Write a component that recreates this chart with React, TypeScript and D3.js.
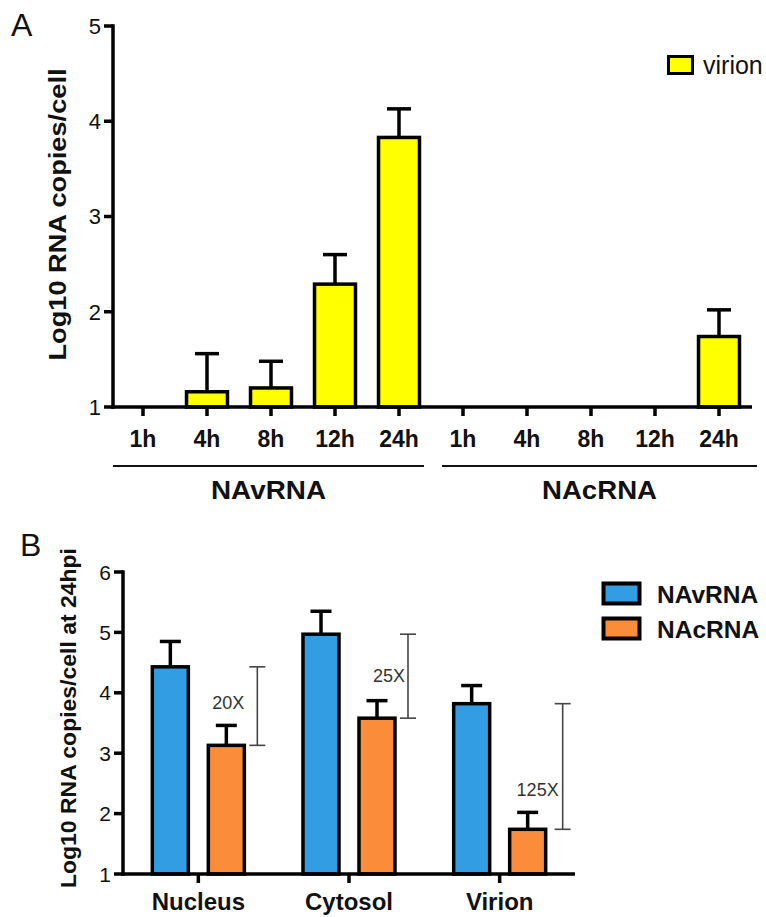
import React from "react";
import * as d3 from "d3";

// ---------- Panel A data ----------
const timepoints = ["1h", "4h", "8h", "12h", "24h"];
const groupsA = ["NAvRNA", "NAcRNA"];
const navrnaVirion = [1, 1.16, 1.2, 2.29, 3.83];
const navrnaVirionErr = [0, 0.4, 0.28, 0.31, 0.3];
const nacrnaVirion = [1, 1, 1, 1, 1.74];
const nacrnaVirionErr = [0, 0, 0, 0, 0.28];
const yTicksA = [1, 2, 3, 4, 5];

// ---------- Panel B data ----------
const compartments = ["Nucleus", "Cytosol", "Virion"];
const seriesB = ["NAvRNA", "NAcRNA"];
const navrnaB = [4.43, 4.97, 3.82];
const navrnaBErr = [0.42, 0.38, 0.3];
const nacrnaB = [3.13, 3.58, 1.74];
const nacrnaBErr = [0.33, 0.29, 0.28];
const foldLabels = ["20X", "25X", "125X"];
const yTicksB = [1, 2, 3, 4, 5, 6];

const YELLOW = "#FFFF00";
const BLUE = "#339DE4";
const ORANGE = "#FA8C3A";
const FONT = "'Liberation Sans', Arial, Helvetica, sans-serif";

export default function App() {
  // Panel A scales
  const catsA = groupsA.flatMap((g) => timepoints.map((t) => `${g}|${t}`));
  const xA = d3.scaleBand<string>().domain(catsA).range([111, 751]).paddingInner(0.36).paddingOuter(0.18);
  const yA = d3.scaleLinear().domain([1, 5]).range([407, 26]);
  const valsA = [...navrnaVirion, ...nacrnaVirion];
  const errsA = [...navrnaVirionErr, ...nacrnaVirionErr];
  const axisA0 = 113;
  const axisA1 = 752;

  // Panel B scales
  const xB = d3.scaleBand<string>().domain(compartments).range([123, 575]);
  const xSub = d3.scaleBand<string>().domain(seriesB).range([-56, 56]).paddingInner(0.357).paddingOuter(0.1785);
  const yB = d3.scaleLinear().domain([1, 6]).range([874, 572]);
  const colorB = d3.scaleOrdinal<string, string>().domain(seriesB).range([BLUE, ORANGE]);
  const dataB = compartments.map((c, i) => ({
    c,
    bars: [
      { s: seriesB[0], v: navrnaB[i], e: navrnaBErr[i] },
      { s: seriesB[1], v: nacrnaB[i], e: nacrnaBErr[i] },
    ],
  }));
  const annotLayout = [
    { dx: 31, labelFrac: 0.46, labelDx: -13 },
    { dx: 31, labelFrac: 0.49, labelDx: -3 },
    { dx: 35, labelFrac: 0.68, labelDx: -4 },
  ];

  const sw = 3.5;
  const bwA = xA.bandwidth();
  const bwB = xSub.bandwidth();

  return (
    <svg width={766} height={917} style={{ display: "block", position: "absolute", left: 0, top: 0 }} fontFamily={FONT}>
      <rect x={0} y={0} width={766} height={917} fill="#fff" />

      {/* ===== Panel A ===== */}
      <text x={11} y={36} fontSize={32} fill="#111">A</text>

      {/* bars */}
      {catsA.map((c, i) => {
        const v = valsA[i];
        if (v <= 1) return null;
        const x = xA(c)!;
        const cx = x + bwA / 2;
        const top = yA(v);
        const capY = yA(v + errsA[i]);
        return (
          <g key={c}>
            <line x1={cx} x2={cx} y1={top} y2={capY} stroke="#000" strokeWidth={sw} />
            <line x1={cx - 12} x2={cx + 12} y1={capY} y2={capY} stroke="#000" strokeWidth={sw} />
            <rect x={x} y={top} width={bwA} height={yA(1) - top} fill={YELLOW} stroke="#000" strokeWidth={sw} />
          </g>
        );
      })}

      {/* y axis A */}
      <line x1={axisA0} x2={axisA0} y1={yA(5) - 1.75} y2={yA(1) + 1.75} stroke="#000" strokeWidth={sw} />
      {yTicksA.map((t) => (
        <g key={t}>
          <line x1={axisA0 - 9} x2={axisA0} y1={yA(t)} y2={yA(t)} stroke="#000" strokeWidth={sw} />
          <text x={axisA0 - 12} y={yA(t)} dy="0.36em" textAnchor="end" fontSize={22} fill="#111">{t}</text>
        </g>
      ))}
      <text
        transform={`translate(57,${(yA(1) + yA(5)) / 2 - 2}) rotate(-90)`}
        textAnchor="middle"
        dy="0.36em"
        fontSize={24}
        fontWeight="bold"
        fill="#111"
        textLength={292}
        lengthAdjust="spacingAndGlyphs"
      >
        Log10 RNA copies/cell
      </text>

      {/* x axis A */}
      <line x1={axisA0 - 1.75} x2={axisA1} y1={yA(1)} y2={yA(1)} stroke="#000" strokeWidth={sw} />
      {catsA.map((c) => {
        const cx = xA(c)! + bwA / 2;
        return (
          <g key={"t" + c}>
            <line x1={cx} x2={cx} y1={yA(1)} y2={yA(1) + 9} stroke="#000" strokeWidth={sw} />
            <text x={cx} y={447} textAnchor="middle" fontSize={23} fontWeight="bold" fill="#111">
              {c.split("|")[1]}
            </text>
          </g>
        );
      })}
      {groupsA.map((g, gi) => {
        const first = xA(`${g}|${timepoints[0]}`)! - xA.step() * xA.paddingInner() / 2;
        const last = xA(`${g}|${timepoints[timepoints.length - 1]}`)! + bwA + xA.step() * xA.paddingInner() / 2;
        const x0 = first + (gi === 0 ? 2 : 11);
        const x1 = last + (gi === 0 ? -7 : 6);
        return (
          <g key={g}>
            <line x1={x0} x2={x1} y1={466} y2={466} stroke="#111" strokeWidth={2.2} />
            <text
              x={(x0 + x1) / 2}
              y={499}
              textAnchor="middle"
              fontSize={25}
              fontWeight="bold"
              fill="#111"
              textLength={115}
              lengthAdjust="spacingAndGlyphs"
            >
              {g}
            </text>
          </g>
        );
      })}

      {/* legend A */}
      <rect x={668.5} y={56.5} width={24} height={17} fill={YELLOW} stroke="#000" strokeWidth={3} />
      <text x={703} y={74} fontSize={25} fill="#111">virion</text>

      {/* ===== Panel B ===== */}
      <text x={20} y={556} fontSize={32} fill="#111">B</text>

      {dataB.map((d) => {
        const gx = xB(d.c)! + xB.bandwidth() / 2;
        return (
          <g key={d.c}>
            {d.bars.map((b) => {
              const x = gx + xSub(b.s)!;
              const cx = x + bwB / 2;
              const top = yB(b.v);
              const capY = yB(b.v + b.e);
              return (
                <g key={b.s}>
                  <line x1={cx} x2={cx} y1={top} y2={capY} stroke="#000" strokeWidth={sw} />
                  <line x1={cx - 10.5} x2={cx + 10.5} y1={capY} y2={capY} stroke="#000" strokeWidth={sw} />
                  <rect x={x} y={top} width={bwB} height={yB(1) - top} fill={colorB(b.s)} stroke="#000" strokeWidth={sw} />
                </g>
              );
            })}
          </g>
        );
      })}

      {/* fold-change brackets */}
      {dataB.map((d, i) => {
        const gx = xB(d.c)! + xB.bandwidth() / 2;
        const orangeCx = gx + xSub(seriesB[1])! + bwB / 2;
        const bx = orangeCx + annotLayout[i].dx;
        const y0 = yB(d.bars[0].v);
        const y1 = yB(d.bars[1].v);
        const ly = y0 + (y1 - y0) * annotLayout[i].labelFrac;
        return (
          <g key={"a" + d.c} stroke="#444" strokeWidth={1.6}>
            <line x1={bx} x2={bx} y1={y0} y2={y1} />
            <line x1={bx - 8} x2={bx + 8} y1={y0} y2={y0} />
            <line x1={bx - 8} x2={bx + 8} y1={y1} y2={y1} />
            <text x={bx + annotLayout[i].labelDx} y={ly} dy="0.36em" textAnchor="end" fontSize={18} fill="#333" stroke="none">
              {foldLabels[i]}
            </text>
          </g>
        );
      })}

      {/* y axis B */}
      <line x1={123} x2={123} y1={yB(6) - 1.75} y2={yB(1) + 1.75} stroke="#000" strokeWidth={sw} />
      {yTicksB.map((t) => (
        <g key={t}>
          <line x1={123 - 9} x2={123} y1={yB(t)} y2={yB(t)} stroke="#000" strokeWidth={sw} />
          <text x={123 - 12} y={yB(t)} dy="0.36em" textAnchor="end" fontSize={21} fill="#111">{t}</text>
        </g>
      ))}
      <text
        transform={`translate(68,${(yB(1) + yB(6)) / 2 - 5}) rotate(-90)`}
        textAnchor="middle"
        dy="0.36em"
        fontSize={22}
        fontWeight="bold"
        fill="#111"
        textLength={340}
        lengthAdjust="spacingAndGlyphs"
      >
        Log10 RNA copies/cell at 24hpi
      </text>

      {/* x axis B */}
      <line x1={121.25} x2={575} y1={yB(1)} y2={yB(1)} stroke="#000" strokeWidth={sw} />
      {compartments.map((c) => {
        const cx = xB(c)! + xB.bandwidth() / 2;
        return (
          <g key={"tb" + c}>
            <line x1={cx} x2={cx} y1={yB(1)} y2={yB(1) + 9} stroke="#000" strokeWidth={sw} />
            <text x={cx} y={910} textAnchor="middle" fontSize={24} fontWeight="bold" fill="#111">{c}</text>
          </g>
        );
      })}

      {/* legend B */}
      {seriesB.map((s, i) => (
        <g key={"lg" + s}>
          <rect x={603.5} y={583.5 + i * 35} width={36} height={20} fill={colorB(s)} stroke="#000" strokeWidth={4} />
          <text x={657} y={603 + i * 35} fontSize={24.5} fontWeight="bold" fill="#111">{s}</text>
        </g>
      ))}
    </svg>
  );
}
